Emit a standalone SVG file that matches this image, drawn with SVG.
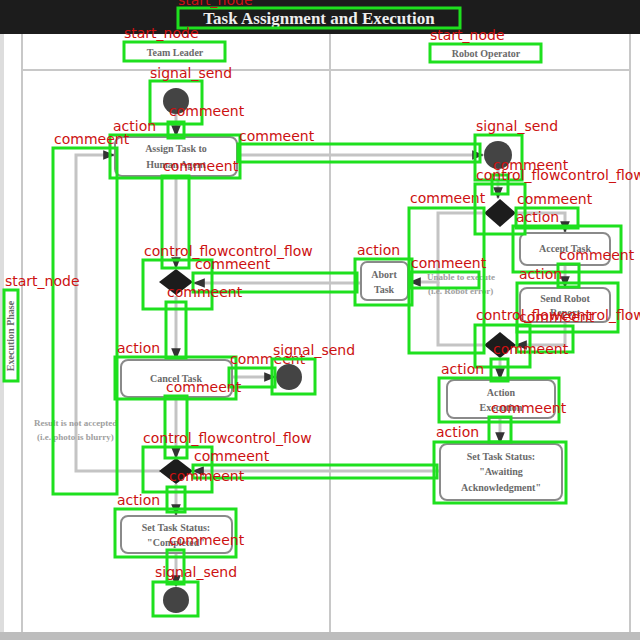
<svg xmlns="http://www.w3.org/2000/svg" width="640" height="640" viewBox="0 0 640 640">
<style>
.frame{stroke:#c8c8c8;stroke-width:2;fill:none}
.node{fill:#fff;stroke:#8a8a8a;stroke-width:2}
.ntx{font-family:"Liberation Serif",serif;font-weight:bold;font-size:10px;fill:#6a6a6a;text-anchor:middle}
.note{font-family:"Liberation Serif",serif;font-weight:bold;font-size:9px;fill:#a0a0a0}
.con{stroke:#c4c4c4;stroke-width:3;fill:none}
.dec{fill:#1c1c1c}
.sig{fill:#444}
.ann{fill:none;stroke:#1ee01e;stroke-width:3}
.lab{font-family:"DejaVu Sans",sans-serif;font-size:14px;fill:#cc1111}
</style>
<defs>
<marker id="arr" viewBox="0 0 10 10" refX="9" refY="5" markerWidth="4" markerHeight="4" orient="auto">
<path d="M0,1 L10,5 L0,9 z" fill="#333"/>
</marker>
</defs>
<rect x="0" y="0" width="640" height="640" fill="#fff"/>
<g id="frame">
<rect x="0" y="0" width="640" height="34" fill="#1c1c1c"/>
<rect x="0" y="34" width="4" height="600" fill="#ddd"/>
<rect x="0" y="632" width="640" height="8" fill="#bdbdbd"/>
<line class="frame" x1="22" y1="34" x2="22" y2="632"/>
<line class="frame" x1="330" y1="34" x2="330" y2="632"/>
<line class="frame" x1="630" y1="34" x2="630" y2="632"/>
<line class="frame" x1="22" y1="70" x2="630" y2="70"/>
</g>
<g id="title"><text x="319" y="24" font-family="Liberation Serif,serif" font-weight="bold" font-size="17" fill="#eee" text-anchor="middle">Task Assignment and Execution</text></g>
<g id="lane-team"><text class="ntx" x="175" y="56" font-size="11" fill="#333">Team Leader</text></g>
<g id="lane-robot"><text class="ntx" x="486" y="57" font-size="11" fill="#777">Robot Operator</text></g>
<g id="phase"><text class="ntx" transform="translate(14,336) rotate(-90)" font-size="9" fill="#555">Execution Phase</text></g>

<g id="connectors">
<path class="con" d="M176,114 V136" marker-end="url(#arr)"/>
<path class="con" d="M237,155 H483" marker-end="url(#arr)"/>
<path class="con" d="M176,177 V268" marker-end="url(#arr)"/>
<path class="con" d="M361,283 H194" marker-end="url(#arr)"/>
<path class="con" d="M176,296 V359" marker-end="url(#arr)"/>
<path class="con" d="M232,377 H275" marker-end="url(#arr)"/>
<path class="con" d="M176,397 V458" marker-end="url(#arr)"/>
<path class="con" d="M160,471 H76 V155 H114" marker-end="url(#arr)"/>
<path class="con" d="M440,471 H193" marker-end="url(#arr)"/>
<path class="con" d="M176,484 V515" marker-end="url(#arr)"/>
<path class="con" d="M176,553 V586" marker-end="url(#arr)"/>
<path class="con" d="M498,169 V198" marker-end="url(#arr)"/>
<path class="con" d="M515,213 H565 V232" marker-end="url(#arr)"/>
<path class="con" d="M485,213 H438 V282 H410" marker-end="url(#arr)"/>
<path class="con" d="M485,345 H438 V282"/>
<path class="con" d="M565,265 V287" marker-end="url(#arr)"/>
<path class="con" d="M565,322 V345 H516" marker-end="url(#arr)"/>
<path class="con" d="M500,358 V379" marker-end="url(#arr)"/>
<path class="con" d="M500,418 V443" marker-end="url(#arr)"/>
</g>

<g id="start1"><circle class="sig" cx="176" cy="101" r="13"/></g>
<g id="assign"><rect class="node" x="115" y="137" width="122" height="39" rx="7"/><text class="ntx" x="176" y="152">Assign Task to</text><text class="ntx" x="176" y="168">Human Agent</text></g>
<g id="dec1"><path class="dec" d="M176,269 L193,282 L176,295 L159,282 z"/></g>
<g id="abort"><rect class="node" x="361" y="262" width="47" height="38" rx="6"/><text class="ntx" x="384" y="278">Abort</text><text class="ntx" x="384" y="293">Task</text></g>
<g id="cancel"><rect class="node" x="121" y="360" width="111" height="37" rx="7"/><text class="ntx" x="176" y="382">Cancel Task</text></g>
<g id="end1"><circle class="sig" cx="289" cy="377" r="13"/></g>
<g id="dec2"><path class="dec" d="M176,458 L193,471 L176,484 L159,471 z"/></g>
<g id="completed"><rect class="node" x="121" y="516" width="111" height="37" rx="7"/><text class="ntx" x="176" y="531">Set Task Status:</text><text class="ntx" x="176" y="546">"Completed"</text></g>
<g id="end2"><circle class="sig" cx="176" cy="600" r="13"/></g>
<g id="note1"><text class="note" x="34" y="426">Result is not accepted</text><text class="note" x="37" y="440">(i.e. photo is blurry)</text></g>

<g id="recv"><circle class="sig" cx="498" cy="155" r="14"/></g>
<g id="dec3"><path class="dec" d="M500,199 L516,213 L500,227 L484,213 z"/></g>
<g id="accept"><rect class="node" x="520" y="233" width="90" height="32" rx="7"/><text class="ntx" x="565" y="252">Accept Task</text></g>
<g id="send"><rect class="node" x="520" y="288" width="90" height="34" rx="7"/><text class="ntx" x="565" y="302">Send Robot</text><text class="ntx" x="565" y="316">Report</text></g>
<g id="note2"><text class="note" x="427" y="280">Unable to execute</text><text class="note" x="428" y="294">(i.e. Robot error)</text></g>
<g id="dec4"><path class="dec" d="M500,332 L516,345 L500,358 L484,345 z"/></g>
<g id="execute"><rect class="node" x="447" y="380" width="108" height="38" rx="7"/><text class="ntx" x="501" y="396">Action</text><text class="ntx" x="501" y="411">Execution</text></g>
<g id="awaiting"><rect class="node" x="440" y="444" width="122" height="56" rx="7"/><text class="ntx" x="501" y="460">Set Task Status:</text><text class="ntx" x="501" y="475">"Awaiting</text><text class="ntx" x="501" y="491">Acknowledgment"</text></g>

<g id="annotations">
<rect class="ann" x="178" y="8" width="282" height="20"/><text class="lab" x="178" y="5">start_node</text>
<rect class="ann" x="124" y="42" width="101" height="19"/><text class="lab" x="124" y="38">start_node</text>
<rect class="ann" x="430" y="44" width="111" height="18"/><text class="lab" x="430" y="40">start_node</text>
<rect class="ann" x="150" y="81" width="52" height="43"/><text class="lab" x="150" y="78">signal_send</text>
<rect class="ann" x="168" y="122" width="16" height="16"/><text class="lab" x="169" y="116">commeent</text>
<rect class="ann" x="110" y="135" width="130" height="43"/><text class="lab" x="113" y="131">action</text>
<rect class="ann" x="53" y="148" width="64" height="346"/><text class="lab" x="54" y="144">commeent</text>
<rect class="ann" x="238" y="144" width="242" height="18"/><text class="lab" x="239" y="141">commeent</text>
<rect class="ann" x="162" y="176" width="27" height="92"/><text class="lab" x="163" y="171">commeent</text>
<rect class="ann" x="143" y="260" width="69" height="49"/><text class="lab" x="144" y="256">control_flowcontrol_flow</text>
<rect class="ann" x="193" y="273" width="164" height="19"/><text class="lab" x="195" y="269">commeent</text>
<rect class="ann" x="166" y="302" width="20" height="56"/><text class="lab" x="167" y="297">commeent</text>
<rect class="ann" x="355" y="259" width="57" height="46"/><text class="lab" x="357" y="255">action</text>
<rect class="ann" x="409" y="208" width="75" height="145"/><text class="lab" x="410" y="203">commeent</text>
<rect class="ann" x="411" y="272" width="68" height="16"/><text class="lab" x="411" y="268">commeent</text>
<rect class="ann" x="475" y="135" width="47" height="45"/><text class="lab" x="476" y="131">signal_send</text>
<rect class="ann" x="492" y="175" width="16" height="19"/><text class="lab" x="493" y="170">commeent</text>
<rect class="ann" x="475" y="184" width="50" height="50"/><text class="lab" x="476" y="180">control_flowcontrol_flow</text>
<rect class="ann" x="516" y="208" width="62" height="20"/><text class="lab" x="517" y="204">commeent</text>
<rect class="ann" x="513" y="226" width="108" height="46"/><text class="lab" x="516" y="222">action</text>
<rect class="ann" x="558" y="264" width="21" height="23"/><text class="lab" x="559" y="260">commeent</text>
<rect class="ann" x="517" y="283" width="101" height="49"/><text class="lab" x="519" y="279">action</text>
<rect class="ann" x="475" y="325" width="55" height="42"/><text class="lab" x="476" y="320">control_flowcontrol_flow</text>
<rect class="ann" x="517" y="326" width="56" height="26"/><text class="lab" x="519" y="322">commeent</text>
<rect class="ann" x="491" y="359" width="17" height="22"/><text class="lab" x="493" y="354">commeent</text>
<rect class="ann" x="439" y="378" width="120" height="44"/><text class="lab" x="441" y="374">action</text>
<rect class="ann" x="489" y="417" width="22" height="25"/><text class="lab" x="491" y="413">commeent</text>
<rect class="ann" x="434" y="442" width="132" height="61"/><text class="lab" x="436" y="437">action</text>
<rect class="ann" x="115" y="357" width="121" height="42"/><text class="lab" x="117" y="353">action</text>
<rect class="ann" x="229" y="368" width="46" height="19"/><text class="lab" x="230" y="364">commeent</text>
<rect class="ann" x="272" y="359" width="43" height="35"/><text class="lab" x="273" y="355">signal_send</text>
<rect class="ann" x="165" y="396" width="22" height="62"/><text class="lab" x="166" y="392">commeent</text>
<rect class="ann" x="143" y="447" width="69" height="45"/><text class="lab" x="143" y="443">control_flowcontrol_flow</text>
<rect class="ann" x="193" y="465" width="244" height="13"/><text class="lab" x="194" y="461">commeent</text>
<rect class="ann" x="167" y="487" width="18" height="25"/><text class="lab" x="169" y="481">commeent</text>
<rect class="ann" x="115" y="509" width="121" height="48"/><text class="lab" x="117" y="505">action</text>
<rect class="ann" x="167" y="550" width="17" height="34"/><text class="lab" x="169" y="545">commeent</text>
<rect class="ann" x="153" y="582" width="45" height="34"/><text class="lab" x="155" y="577">signal_send</text>
<rect class="ann" x="4" y="290" width="14" height="91"/><text class="lab" x="5" y="286">start_node</text>
</g>
</svg>
